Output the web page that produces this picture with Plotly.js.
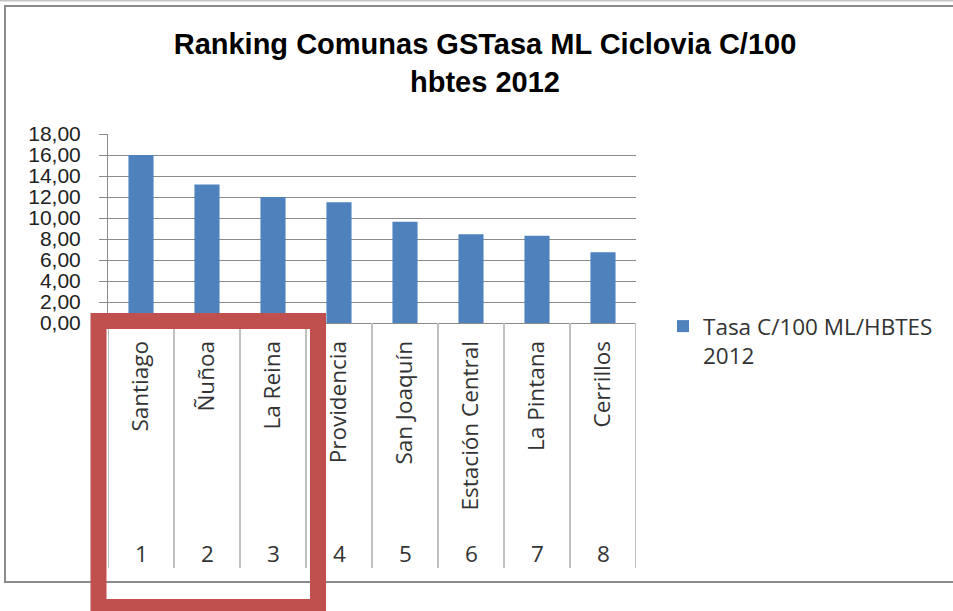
<!DOCTYPE html>
<html>
<head>
<meta charset="utf-8">
<script src="https://cdn.plot.ly/plotly-3.0.1.min.js"></script>
<style>html,body{margin:0;padding:0;background:#fff;}#chart{width:953px;height:611px;}</style>
</head>
<body>
<div id="chart"></div>
<script>
// ---- data ----
const comunas = ["Santiago", "Ñuñoa", "La Reina", "Providencia", "San Joaquín", "Estación Central", "La Pintana", "Cerrillos"];
const ranking = ["1", "2", "3", "4", "5", "6", "7", "8"];
const tasa = [16.0, 13.2, 12.0, 11.5, 9.65, 8.45, 8.3, 6.75];
const seriesName = "Tasa C/100 ML/HBTES<br>2012";
const chartTitle = "Ranking Comunas GSTasa ML Ciclovia C/100<br>hbtes 2012";

// ---- layout geometry ----
const W = 953, H = 611;
const L = 108, R = 317, T = 134, B = 288;
const PW = W - L - R, PH = H - T - B;
const px = v => (v - L) / PW;
const py = v => (H - B - v) / PH;

const labelFont = {family: "Open Sans, sans-serif", size: 22.5, color: "#333333"};

const shapes = [];
// chart frame
shapes.push({type: "rect", xref: "paper", yref: "paper", x0: px(5), x1: px(965), y0: py(582), y1: py(6),
  line: {color: "#8a8a8a", width: 2}, layer: "above"});
shapes.push({type: "line", xref: "paper", yref: "paper", x0: px(0), x1: px(953), y0: py(0.5), y1: py(0.5),
  line: {color: "#c4c4c4", width: 2}, layer: "above"});
// category separators
for (let k = 0; k <= comunas.length; k++) {
  shapes.push({type: "line", xref: "x", yref: "paper", x0: k - 0.5, x1: k - 0.5, y0: py(323), y1: py(568),
    line: {color: "#c0c0c0", width: 2}, layer: "above"});
}
// red highlight box
shapes.push({type: "rect", xref: "paper", yref: "paper", x0: px(98.5), x1: px(318), y0: py(607), y1: py(321),
  line: {color: "#C0504D", width: 16}, fillcolor: "rgba(0,0,0,0)", layer: "above"});

const annotations = comunas.map((c, i) => ({
  x: c, xref: "x", y: py(553), yref: "paper", text: ranking[i], showarrow: false,
  xanchor: "center", yanchor: "middle", font: labelFont
}));

const data = [{
  type: "bar", x: comunas, y: tasa, name: seriesName,
  marker: {color: "#4F81BD", line: {width: 0}}, showlegend: true
}];

const layout = {
  width: W, height: H,
  margin: {l: L, r: R, t: T, b: B, pad: 0},
  paper_bgcolor: "#ffffff", plot_bgcolor: "rgba(0,0,0,0)",
  separators: ", ",
  bargap: 0.62,
  title: {
    text: chartTitle, x: 485 / W, xref: "container", xanchor: "center",
    y: 1 - 54 / H, yref: "container", yanchor: "top",
    font: {family: "Liberation Sans, Arial, sans-serif", size: 29, weight: "bold", color: "#000000"}
  },
  xaxis: {
    type: "category", range: [-0.5, comunas.length - 0.5],
    showline: true, linecolor: "#8a8a8a", linewidth: 1,
    showgrid: false, ticks: "", tickangle: -90, ticklabelstandoff: 8,
    tickfont: labelFont, fixedrange: true
  },
  yaxis: {
    range: [0, 18], dtick: 2, tick0: 0, tickformat: ".2f",
    showline: true, linecolor: "#8a8a8a", linewidth: 1,
    showgrid: true, gridcolor: "#8a8a8a", gridwidth: 1, zeroline: false,
    ticks: "outside", ticklen: 8, tickcolor: "#8a8a8a", ticklabelstandoff: 14,
    tickfont: {family: "Liberation Sans, Arial, sans-serif", size: 21, color: "#222222"}, fixedrange: true
  },
  legend: {
    x: px(663), y: py(305), xref: "paper", yref: "paper", xanchor: "left", yanchor: "top",
    font: labelFont, valign: "top", bgcolor: "rgba(0,0,0,0)", borderwidth: 0, itemwidth: 30
  },
  shapes: shapes,
  annotations: annotations
};

Plotly.newPlot("chart", data, layout, {displayModeBar: false, staticPlot: true});
</script>
</body>
</html>
